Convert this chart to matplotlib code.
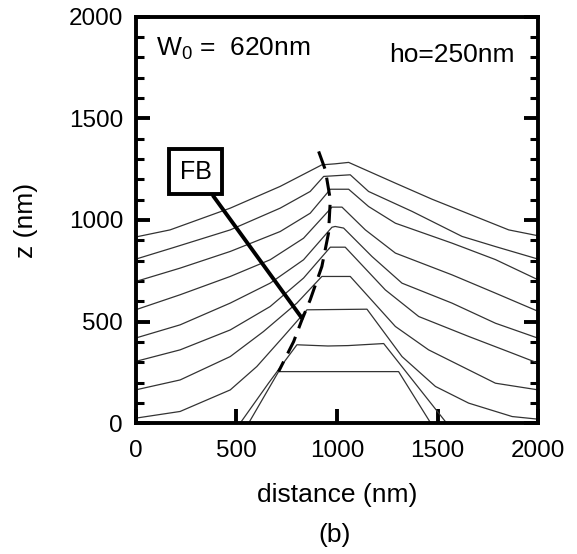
import matplotlib
matplotlib.use("Agg")
import matplotlib.pyplot as plt
from matplotlib.ticker import MultipleLocator

plt.rcParams["font.family"] = ["Liberation Sans", "DejaVu Sans"]
plt.rcParams["mathtext.fontset"] = "custom"
plt.rcParams["mathtext.rm"] = "Liberation Sans"
plt.rcParams["mathtext.it"] = "Liberation Sans"

# Surface profiles z(x) at successive growth stages (nm)
x1 = [0, 171, 470, 718, 925, 991, 1058, 1290, 1472, 1737, 1853, 2000]
z1 = [916, 951, 1058, 1165, 1271, 1276, 1283, 1181, 1102, 997, 951, 922]
x2 = [0, 188, 470, 718, 867, 934, 1066, 1157, 1373, 1621, 1787, 2000]
z2 = [807, 864, 951, 1058, 1140, 1214, 1222, 1140, 1042, 919, 869, 807]
x3 = [0, 221, 470, 718, 867, 967, 1058, 1157, 1290, 1571, 1787, 2000]
z3 = [697, 763, 845, 943, 1033, 1151, 1151, 1066, 984, 886, 805, 705]
x4 = [0, 221, 470, 668, 834, 975, 1025, 1141, 1290, 1571, 1787, 2000]
z4 = [558, 632, 722, 804, 910, 1063, 1063, 951, 837, 730, 640, 550]
x5 = [0, 221, 470, 668, 834, 975, 991, 1033, 1174, 1323, 1571, 1787, 2000]
z5 = [419, 484, 591, 689, 804, 964, 968, 960, 820, 689, 591, 492, 418]
x6 = [0, 221, 470, 668, 834, 967, 1041, 1240, 1406, 1654, 1870, 2000]
z6 = [304, 361, 459, 574, 714, 866, 866, 656, 525, 427, 345, 295]
x7 = [0, 221, 470, 635, 801, 925, 1066, 1290, 1455, 1621, 1787, 2000]
z7 = [164, 213, 328, 451, 591, 722, 722, 476, 361, 279, 197, 164]
x8 = [0, 221, 470, 602, 735, 851, 1149, 1323, 1489, 1654, 1870, 2000]
z8 = [25, 58, 164, 279, 427, 558, 561, 328, 181, 99, 33, 20]
x9 = [519, 660, 801, 955, 1055, 1232, 1545]
z9 = [0, 197, 386, 380, 382, 392, 0]
x10 = [561, 710, 1306, 1466]
z10 = [0, 254, 254, 0]

# facet boundary (FB), dashed
fb_x = [909, 942, 967, 958, 925, 867, 826, 785, 710]
fb_z = [1337, 1247, 1099, 935, 771, 607, 509, 402, 254]

profiles = [(x1, z1), (x2, z2), (x3, z3), (x4, z4), (x5, z5),
            (x6, z6), (x7, z7), (x8, z8), (x9, z9), (x10, z10)]

fig = plt.figure(figsize=(5.77, 5.54), dpi=100)
ax = fig.add_axes([0.235, 0.236, 0.698, 0.734])

for xs, zs in profiles:
    ax.plot(xs, zs, color="0.2", linewidth=0.9)

ax.plot(fb_x, fb_z, color="black", linewidth=2.2, dashes=(6, 3))

ax.annotate("FB", xy=(826, 517), xytext=(299, 1236),
            fontsize=18, ha="center", va="center",
            bbox=dict(boxstyle="square,pad=0.42", fc="white", ec="black", lw=2.8),
            arrowprops=dict(arrowstyle="-", color="black", lw=2.8,
                            shrinkA=0, shrinkB=0))

ax.text(102, 1842, r"W$_0$ =  620nm", fontsize=19, ha="left", va="center")
ax.text(1880, 1812, "ho=250nm", fontsize=19, ha="right", va="center")

ax.set_xlim(0, 2000)
ax.set_ylim(0, 2000)
ax.xaxis.set_major_locator(MultipleLocator(500))
ax.yaxis.set_major_locator(MultipleLocator(500))
ax.yaxis.set_minor_locator(MultipleLocator(100))
ax.tick_params(axis="both", which="both", direction="in", labelsize=17.5)
ax.tick_params(axis="y", which="both", right=True)
ax.tick_params(axis="x", which="both", top=False)
ax.tick_params(axis="x", which="major", pad=12)
ax.tick_params(axis="y", which="major", pad=9)
ax.tick_params(which="major", length=10, width=2.8)
ax.tick_params(which="minor", length=6, width=2.2)
for sp in ax.spines.values():
    sp.set_linewidth(2.8)

ax.set_xlabel("distance (nm)", fontsize=19, labelpad=15)
ax.set_ylabel("z (nm)", fontsize=19, labelpad=22)
fig.text(0.58, 0.035, "(b)", fontsize=19, ha="center", va="center")

fig.savefig("out.png", dpi=100)
